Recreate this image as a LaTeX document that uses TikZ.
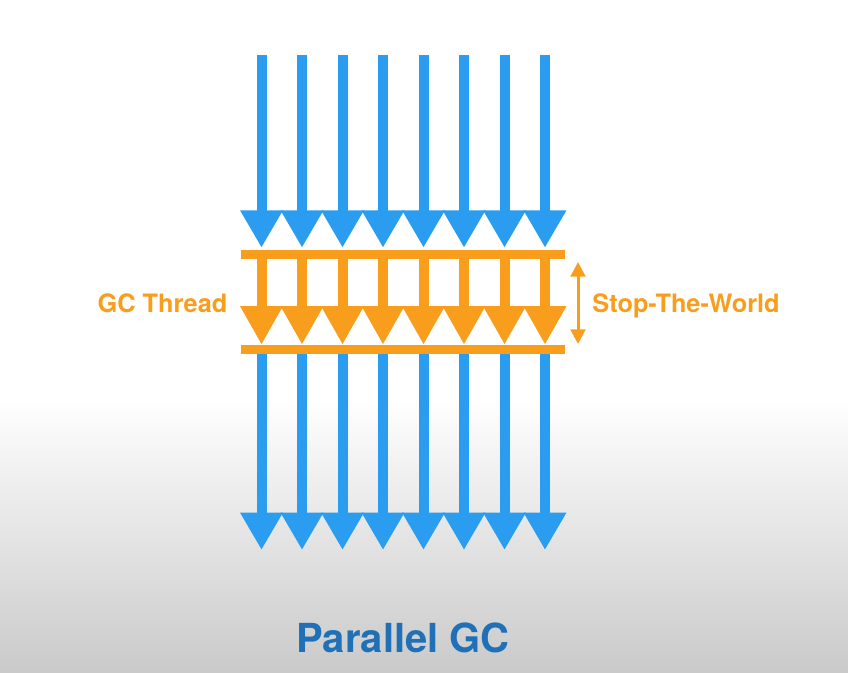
\documentclass[tikz,border=0pt]{standalone}
\usepackage{fontspec}
\setmainfont{TeX Gyre Heros}
\usetikzlibrary{arrows.meta}

\definecolor{flowblue}{RGB}{42,157,240}
\definecolor{gcorange}{RGB}{249,157,28}
\definecolor{titleblue}{RGB}{31,112,182}
\definecolor{bggray}{RGB}{202,202,202}

\begin{document}
\begin{tikzpicture}[x=0.75pt, y=-0.75pt,
    flow/.style={draw=flowblue, line width=7.5pt,
        -{Triangle[width=30pt, length=28pt]}},
    gcflow/.style={draw=gcorange, line width=7.5pt,
        -{Triangle[width=30pt, length=29pt]}},
    wall/.style={fill=gcorange, minimum width=243pt,
        minimum height=6.75pt, inner sep=0pt},
    sidetext/.style={text=gcorange, anchor=base,
        font=\bfseries\fontsize{19}{22}\selectfont}]

    % background
    \useasboundingbox (0,0) rectangle (848,672);
    \fill[white] (0,0) rectangle (848,398);
    \shade[top color=white, bottom color=bggray]
        (0,397) rectangle (848,672);

    % the two stop-the-world bars
    \node[wall] (bar1) at (403,254.5) {};
    \node[wall] (bar2) at (403,349.5) {};

    % eight threads
    \foreach \i in {1,...,8} {
        \pgfmathsetmacro\x{261.5+40.5*(\i-1)}
        \coordinate (in\i) at (\x,55);
        \coordinate (out\i) at (\x,550);
        \draw[flow] (in\i) -- ([yshift=1.5pt]bar1.north -| in\i);
        \draw[gcflow] (bar1.south -| in\i) -- (bar2.north -| in\i);
        \draw[flow] (bar2.south -| in\i) -- (out\i);
    }

    % pause span
    \coordinate (stw1) at (578,262);
    \coordinate (stw2) at (578,344);
    \draw[gcorange, line width=2.25pt,
        {Triangle[width=11pt, length=11pt]}-{Triangle[width=11pt, length=11pt]}]
        (stw1) -- (stw2);

    \node[sidetext] (gcthread) at (162.5,312) {GC Thread};
    \node[sidetext] (stw) at (686,312) {Stop-The-World};

    \node[text=titleblue, anchor=base,
        font=\bfseries\fontsize{30}{33}\selectfont]
        (title) at (403,652) {Parallel GC};
\end{tikzpicture}
\end{document}
